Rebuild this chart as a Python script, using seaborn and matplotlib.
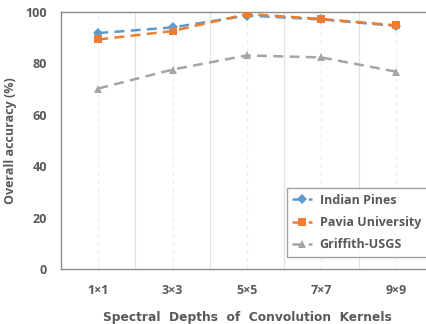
import pandas as pd
import numpy as np
import seaborn as sns
import matplotlib.pyplot as plt

kernels = ['1×1', '3×3', '5×5', '7×7', '9×9']
indian_pines = [91.8, 94.0, 98.6, 97.1, 94.6]
pavia_university = [89.3, 92.6, 99.2, 97.3, 94.8]
griffith_usgs = [70.2, 77.6, 83.1, 82.3, 76.8]
series_names = ['Indian Pines', 'Pavia University', 'Griffith-USGS']

rows = []
for name, vals in zip(series_names, [indian_pines, pavia_university, griffith_usgs]):
    for i, v in enumerate(vals):
        rows.append({'pos': i, 'acc': v, 'dataset': name})
df = pd.DataFrame(rows)

sns.set_style('white')
plt.rcParams['font.family'] = ['Open Sans', 'DejaVu Sans']
txt = '#595959'

fig = plt.figure(figsize=(4.27, 3.24), dpi=100)
ax = fig.add_axes([0.143, 0.170, 0.871, 0.793])

# excel-ish grid: solid between categories, faint dashed at categories
for b in np.arange(0.5, 4.5, 1):
    ax.axvline(b, color='#e3e3e3', lw=0.9, zorder=0)
for c in range(5):
    ax.axvline(c, color='#ececec', lw=0.8, ls=(0, (4, 3)), zorder=0)

palette = {'Indian Pines': '#5B9BD5', 'Pavia University': '#ED7D31', 'Griffith-USGS': '#A5A5A5'}
markers = {'Indian Pines': 'D', 'Pavia University': 's', 'Griffith-USGS': '^'}
dashes = {n: (4, 2.5) for n in series_names}
sns.lineplot(data=df, x='pos', y='acc', hue='dataset', style='dataset',
             palette=palette, markers=markers, dashes=dashes, linewidth=1.8,
             markersize=5.5, markeredgewidth=0, ax=ax, zorder=3)

ax.set_xlim(-0.5, 4.5)
ax.set_ylim(0, 100)
ax.set_yticks([0, 20, 40, 60, 80, 100])
ax.set_xticks(range(5))
ax.set_xticklabels(kernels)
ax.tick_params(axis='both', length=0, labelsize=9, colors=txt)
ax.tick_params(axis='y', pad=10)
ax.tick_params(axis='x', pad=11)
for lab in ax.get_xticklabels() + ax.get_yticklabels():
    lab.set_fontweight('bold')
for s in ax.spines.values():
    s.set_color('#8c8c8c')
    s.set_linewidth(1.0)

ax.set_xlabel('Spectral  Depths  of  Convolution  Kernels', fontsize=8.8,
              fontweight='bold', color=txt, labelpad=10, family='DejaVu Sans')
ax.set_ylabel('Overall accuracy (%)', fontsize=9, fontweight='bold', color=txt, labelpad=6)

leg = ax.legend(loc='lower right', bbox_to_anchor=(1.0, 0.022), fontsize=9,
                frameon=True, fancybox=False, handlelength=1.6, handletextpad=0.6,
                borderpad=0.45, labelspacing=0.75, edgecolor='#8c8c8c')
leg.get_frame().set_linewidth(1.0)
for t in leg.get_texts():
    t.set_color(txt)
    t.set_fontweight('bold')

fig.savefig('out.png', dpi=100)
